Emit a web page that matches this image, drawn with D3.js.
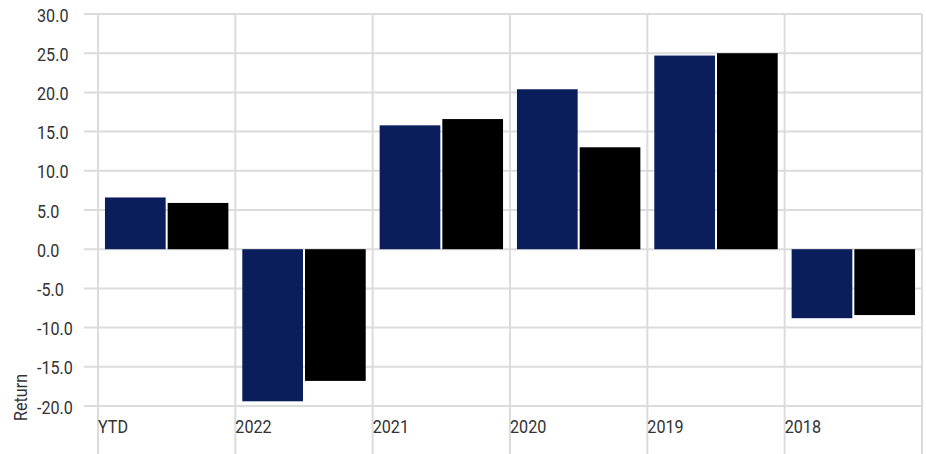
<!DOCTYPE html>
<html>
<head>
<meta charset="utf-8">
<script src="https://cdn.jsdelivr.net/npm/d3@7"></script>
<style>
  html, body { margin: 0; padding: 0; background: #fff; }
  svg { display: block; }
  text { font-family: Roboto, "Liberation Sans", sans-serif; fill: #333; }
</style>
</head>
<body>
<svg id="chart" width="926" height="454"></svg>
<script>
// Calendar-year returns: fund vs. benchmark
const categories = ["YTD", "2022", "2021", "2020", "2019", "2018"];
const seriesNames = ["Fund", "Benchmark"];
const fundReturns = [6.6, -19.4, 15.8, 20.4, 24.7, -8.8];
const benchmarkReturns = [5.9, -16.8, 16.6, 13.0, 25.0, -8.4];
const yTicks = [-20, -15, -10, -5, 0, 5, 10, 15, 20, 25, 30];
const seriesColors = ["#0b1e5c", "#000000"];

const svg = d3.select("#chart");
const W = 926, H = 454;
const plot = { left: 98, right: 922, top: 14, bottom: 406 };
const condensed = "scale(0.85,1)";   // narrow the glyphs to a condensed look

const x = d3.scaleBand().domain(categories).range([plot.left, plot.right]).padding(0);
const xInner = d3.scaleBand().domain(seriesNames).range([0, x.bandwidth()])
  .paddingInner(0.032).paddingOuter(0.111);
const y = d3.scaleLinear().domain([-20, 30]).range([plot.bottom, plot.top]);

const grid = svg.append("g").attr("stroke", "#dcdcdc").attr("stroke-width", 2);

// horizontal grid lines
grid.selectAll("line.h").data(yTicks).join("line")
  .attr("class", "h")
  .attr("x1", 84).attr("x2", plot.right)
  .attr("y1", d => y(d)).attr("y2", d => y(d));

// vertical grid lines at category boundaries
const vEdges = categories.map(c => x(c)).concat([x(categories[categories.length - 1]) + x.bandwidth()]);
grid.selectAll("line.v").data(vEdges).join("line")
  .attr("class", "v")
  .attr("x1", d => d).attr("x2", d => d)
  .attr("y1", plot.top).attr("y2", H);

// bars
const rows = categories.map((c, i) => ({ cat: c, vals: [fundReturns[i], benchmarkReturns[i]] }));
const groups = svg.append("g").selectAll("g").data(rows).join("g")
  .attr("transform", d => `translate(${x(d.cat)},0)`);
groups.selectAll("rect").data(d => d.vals.map((v, j) => ({ s: seriesNames[j], v, j }))).join("rect")
  .attr("x", d => xInner(d.s))
  .attr("width", xInner.bandwidth())
  .attr("y", d => y(Math.max(0, d.v)))
  .attr("height", d => Math.abs(y(d.v) - y(0)))
  .attr("fill", d => seriesColors[d.j]);

// y axis labels (plain hyphen for negatives)
const yAxis = svg.append("g").attr("transform", "translate(37,0)")
  .call(d3.axisLeft(y).tickValues(yTicks).tickFormat(d => d.toFixed(1)).tickSize(0).tickPadding(0));
yAxis.select(".domain").remove();
yAxis.selectAll("text").attr("text-anchor", "start").attr("x", 0).attr("dy", "0.37em")
  .attr("transform", condensed)
  .style("font-size", "19px").style("fill", "#333");

// x axis labels, left aligned at each category boundary
const xAxis = svg.append("g").attr("transform", `translate(0,${plot.bottom})`)
  .call(d3.axisBottom(x).tickSize(0).tickPadding(0));
xAxis.select(".domain").remove();
xAxis.selectAll(".tick").attr("transform", d => `translate(${x(d)},0)`);
xAxis.selectAll("text").attr("text-anchor", "start").attr("x", 0).attr("y", 27.5).attr("dy", 0)
  .attr("transform", condensed)
  .style("font-size", "19px").style("fill", "#333");

// y axis title
svg.append("text")
  .attr("transform", `translate(27,421) rotate(-90) ${condensed}`)
  .attr("text-anchor", "start")
  .style("font-size", "19px")
  .text("Return");
</script>
</body>
</html>
